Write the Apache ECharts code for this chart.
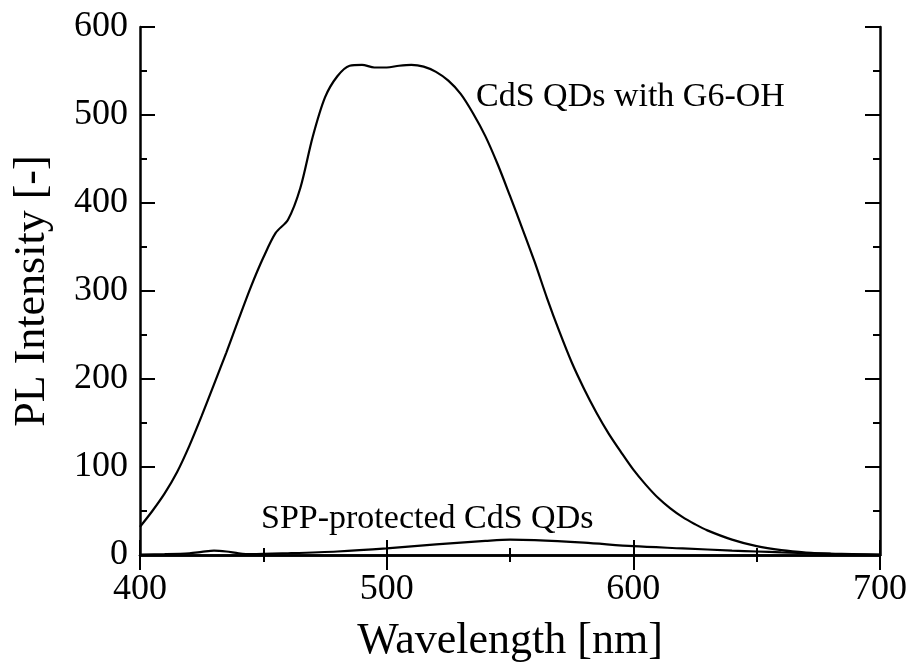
<!DOCTYPE html>
<html><head><meta charset="utf-8">
<script src="https://cdn.jsdelivr.net/npm/echarts@6/dist/echarts.min.js"></script>
<style>html,body{margin:0;padding:0;background:#fff}#c{width:914px;height:663px}</style>
</head><body><div id="c"></div>
<script>
const wavelengthG6 = [400,405,410,415,420,425,430,435,440,445,450,455,460,465,470,475,480,485,490,495,500,505,510,515,520,525,530,535,540,545,550,555,560,565,570,575,580,585,590,595,600,605,610,615,620,625,630,640,650,660,670,680,690,700];
const intensityG6 = [32,50,70,94,124,158,194,230,268,305,338,366,381,417,475,520,544,556,557,554,554,556,557,555,549,539,524,502,476,444,408,371,333,292,254,219,189,162,138,117,97,80,65,53,43,35,28,17.5,10,5.5,2.8,1.3,0.6,0.3];
const wavelengthSPP = [400,410,420,425,430,435,440,445,460,480,500,520,540,550,560,580,600,620,640,650,660,680,700];
const intensitySPP = [0.5,1,2,3.5,5,4,2,1,2,4,7.5,12,16,17.5,17,14,10,7.5,5,4,3,1.5,0.5];
const xTicks = [400,500,600,700];
const yTicks = [0,100,200,300,400,500,600];
const labelG6 = "CdS QDs with G6-OH";
const labelSPP = "SPP-protected CdS QDs";

const FONT = "'Liberation Serif','Times New Roman',serif";
const chart = echarts.init(document.getElementById('c'), null, {renderer:'canvas'});
const axisCommon = (showLabel) => ({
  type: 'value',
  axisLine: {show: true, lineStyle: {color: '#000', width: 2.5}},
  axisTick: {show: true, inside: true, length: 15, lineStyle: {color: '#000', width: 2}},
  minorTick: {show: true, splitNumber: 2, length: 7, lineStyle: {color: '#000', width: 2}},
  splitLine: {show: false},
  axisLabel: {show: showLabel, color: '#000', fontFamily: FONT, fontSize: 36}
});
const toPairs = (xs, ys) => xs.map((x, i) => [x, ys[i]]);
chart.setOption({
  animation: false,
  backgroundColor: '#fff',
  grid: {left: 140, right: 34, top: 27, bottom: 108, containLabel: false, outerBoundsMode: 'none'},
  xAxis: [
    Object.assign(axisCommon(true), {min: xTicks[0], max: xTicks[xTicks.length-1], interval: 100, position: 'bottom',
      name: 'Wavelength [nm]', nameLocation: 'middle', nameGap: 64,
      nameTextStyle: {color: '#000', fontFamily: FONT, fontSize: 44},
      axisLabel: {show: true, color: '#000', fontFamily: FONT, fontSize: 36, margin: 17}}),
    Object.assign(axisCommon(false), {min: xTicks[0], max: xTicks[xTicks.length-1], interval: 100, position: 'top'})
  ],
  yAxis: [
    Object.assign(axisCommon(true), {min: yTicks[0], max: yTicks[yTicks.length-1], interval: 100, position: 'left',
      name: 'PL Intensity [-]', nameLocation: 'middle', nameGap: 86,
      nameTextStyle: {color: '#000', fontFamily: FONT, fontSize: 44},
      axisLabel: {show: true, color: '#000', fontFamily: FONT, fontSize: 36, margin: 12}}),
    Object.assign(axisCommon(false), {min: yTicks[0], max: yTicks[yTicks.length-1], interval: 100, position: 'right'})
  ],
  series: [
    {type: 'line', xAxisIndex: 0, yAxisIndex: 0, data: toPairs(wavelengthG6, intensityG6), smooth: 0.3, showSymbol: false,
      lineStyle: {color: '#000', width: 2.2}},
    {type: 'line', xAxisIndex: 0, yAxisIndex: 0, data: toPairs(wavelengthSPP, intensitySPP), smooth: 0.3, showSymbol: false,
      lineStyle: {color: '#000', width: 2.2}}
  ],
  graphic: [
    {type: 'text', left: 476, top: 80, style: {text: labelG6, fill: '#000', font: "34px 'Liberation Serif','Times New Roman',serif"}},
    {type: 'text', left: 261, top: 502, style: {text: labelSPP, fill: '#000', font: "34px 'Liberation Serif','Times New Roman',serif"}}
  ]
});
</script></body></html>
